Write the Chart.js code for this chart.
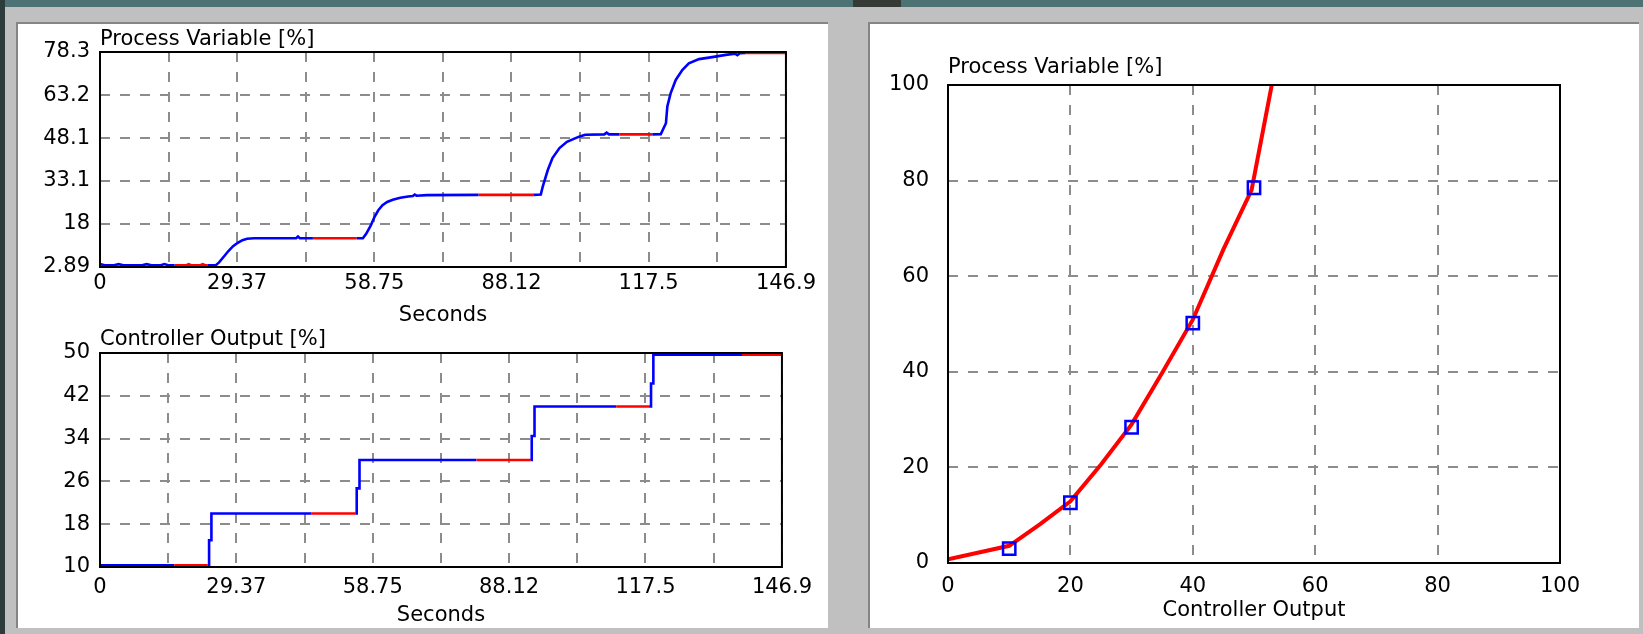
<!DOCTYPE html>
<html>
<head>
<meta charset="utf-8">
<title>Process Variable / Controller Output</title>
<script src="https://cdn.jsdelivr.net/npm/chart.js@4.4.1/dist/chart.umd.min.js"></script>
<style>
  body { margin: 0; width: 1643px; height: 634px; background: #c0c0c0; position: relative; overflow: hidden; }
  .strip { position: absolute; }
  .panel { position: absolute; background: #fff; border-top: 2px solid #858585; border-left: 2px solid #858585; box-sizing: border-box; }
  canvas { position: absolute; }
</style>
</head>
<body>
<div class="strip" style="left:0;top:0;width:1643px;height:7px;background:#4d7274"></div>
<div class="strip" style="left:0;top:0;width:5px;height:634px;background:#2d3c3b"></div>
<div class="strip" style="left:853px;top:0;width:48px;height:7px;background:#353a36"></div>
<div class="panel" style="left:16px;top:22px;width:812px;height:606px"></div>
<div class="panel" style="left:868px;top:22px;width:771px;height:606px"></div>

<canvas id="pvChart" width="800" height="306" style="left:20px;top:24px"></canvas>
<canvas id="coChart" width="800" height="304" style="left:20px;top:326px"></canvas>
<canvas id="mapChart" width="740" height="600" style="left:875px;top:30px"></canvas>

<script>
// --- trend data (seconds) ---
var pvTime = [0, 1, 3, 4, 5, 9, 10, 11, 13, 13.8, 14.6, 16, 18.5, 19, 19.5, 21.5, 22, 22.5, 23.1,
  24.8, 25.5, 26.5, 27.5, 28.5, 29.5, 30.5, 31.5, 33, 42, 42.4, 42.8, 45.6, 55, 56.3,
  57, 58, 58.8, 59.6, 60.5, 61.5, 62.7, 64.3, 66, 67, 67.4, 67.8, 70, 81.1, 92.8, 94.4,
  94.8, 95.9, 96.9, 98.4, 100, 102.6, 103.9, 108, 108.5, 109, 111.2, 118.3, 120.1,
  121.2, 121.5, 122.2, 123.3, 124.7, 126.1, 128.3, 131.1, 134, 136, 136.5, 137, 138.3, 146.9];
var pvValue = [3.9, 3.5, 3.5, 3.9, 3.5, 3.5, 3.9, 3.5, 3.5, 3.9, 3.5, 3.5, 3.5, 3.9, 3.5, 3.5, 3.9, 3.5, 3.5,
  3.5, 4.5, 6.5, 8.5, 10.2, 11.4, 12.3, 12.8, 13.0, 13.0, 13.6, 13.0, 13.0, 13.0, 13.0,
  14.5, 17.5, 20.5, 22.8, 24.6, 25.7, 26.5, 27.2, 27.6, 27.8, 28.3, 27.9, 28.1, 28.2, 28.2, 28.3,
  31.0, 36.9, 41.1, 44.6, 46.8, 48.6, 49.3, 49.4, 50.0, 49.4, 49.4, 49.4, 49.5,
  53.3, 59.2, 63.8, 68.5, 72.0, 74.3, 75.8, 76.5, 77.3, 77.7, 77.2, 77.9, 78.0, 78.0];

var coTime = [0, 16, 23.2, 23.5, 23.5, 24.0, 24.0, 45.6, 55.1, 55.3, 55.3, 55.9, 55.9, 81.1, 92.8,
  93.0, 93.0, 93.6, 93.6, 111.2, 118.3, 118.7, 118.7, 119.2, 119.2, 138.3, 146.9];
var coValue = [10.3, 10.3, 10.3, 10.3, 15, 15, 20, 20, 20, 20, 24.7, 24.7, 30, 30, 30,
  30, 34.5, 34.5, 40, 40, 40, 40, 44.3, 44.3, 49.7, 49.7, 49.7];

// stretches of the trends drawn in red
var redWindows = [[16, 23.2], [45.6, 55.1], [81.1, 92.8], [111.2, 118.3], [138.3, 146.9]];

var timeGrid = [0, 14.69, 29.37, 44.06, 58.75, 73.44, 88.12, 102.81, 117.5, 132.19, 146.9];
var pvTicks = [2.89, 18, 33.1, 48.1, 63.2, 78.3];
var coTicks = [10, 18, 26, 34, 42, 50];

// --- static map (right) ---
var curveCO = [0, 10, 15, 20, 25, 30, 35, 40, 45, 49.6, 52.9];
var curvePV = [0.8, 3.6, 8.1, 12.9, 20.6, 29.0, 39.8, 50.9, 65.6, 78.0, 100];
var pointCO = [10, 20, 30, 40, 50];
var pointPV = [3.0, 12.6, 28.4, 50.2, 78.5];

var FONT = { family: "'DejaVu Sans', sans-serif", size: 21 };
var BLUE = '#0000ff', RED = '#ff0000', GRID = '#8c8c8c';

function pairs(xs, ys) {
  return xs.map(function (x, i) { return { x: x, y: ys[i] }; });
}

function inRed(a, b) {
  var m = (a + b) / 2;
  return redWindows.some(function (w) { return m > w[0] && m < w[1]; });
}

// black box round the plot and the small title on its top-left corner
var framePlugin = {
  id: 'frame',
  afterDatasetsDraw: function (chart, args, opts) {
    var a = chart.chartArea, ctx = chart.ctx;
    ctx.save();
    ctx.strokeStyle = '#000';
    ctx.lineWidth = 2;
    ctx.strokeRect(a.left, a.top, a.right - a.left, a.bottom - a.top);
    ctx.fillStyle = '#000';
    ctx.font = FONT.size + 'px ' + FONT.family;
    ctx.textBaseline = 'middle';
    ctx.textAlign = 'left';
    ctx.fillText(opts.text, a.left, a.top - opts.gap);
    ctx.restore();
  }
};

function axis(o) {
  return {
    type: 'linear',
    min: o.min,
    max: o.max,
    afterBuildTicks: function (s) {
      if (o.ticks) s.ticks = o.ticks.map(function (v) { return { value: v }; });
    },
    afterFit: function (s) {
      if (o.width) s.width = o.width;
      if (o.height) s.height = o.height;
    },
    grid: { color: GRID, lineWidth: 2, drawTicks: false },
    border: { display: false, dash: [10, 10] },
    ticks: {
      color: '#000', font: FONT, padding: o.pad, autoSkip: false, maxRotation: 0,
      stepSize: o.step,
      callback: o.label || function (v) { return String(v); }
    },
    title: {
      display: !!o.title, text: o.title || '', color: '#000', font: FONT,
      padding: { top: 0, bottom: o.titlePad || 0 }
    }
  };
}

function baseOptions(pad, title, gap, x, y) {
  return {
    responsive: false,
    animation: false,
    events: [],
    layout: { padding: pad },
    plugins: {
      legend: { display: false },
      tooltip: { enabled: false },
      frame: { text: title, gap: gap }
    },
    scales: { x: x, y: y }
  };
}

function everyOther(v, i) { return i % 2 ? '' : String(v); }

function trendDataset(xs, ys) {
  return {
    data: pairs(xs, ys),
    borderColor: BLUE,
    borderWidth: 2.6,
    pointRadius: 0,
    tension: 0,
    segment: {
      borderColor: function (c) { return inRed(c.p0.parsed.x, c.p1.parsed.x) ? RED : BLUE; }
    }
  };
}

// Process Variable trend
new Chart(document.getElementById('pvChart'), {
  type: 'line',
  data: { datasets: [trendDataset(pvTime, pvValue)] },
  options: baseOptions({ top: 28, right: 33, left: 0, bottom: 0 }, 'Process Variable [%]', 12,
    axis({ min: 0, max: 146.9, ticks: timeGrid, label: everyOther, pad: 4, height: 63, title: 'Seconds', titlePad: 2 }),
    axis({ min: 2.89, max: 78.3, ticks: pvTicks, pad: 10, width: 80 })),
  plugins: [framePlugin]
});

// Controller Output trend
new Chart(document.getElementById('coChart'), {
  type: 'line',
  data: { datasets: [trendDataset(coTime, coValue)] },
  options: baseOptions({ top: 27, right: 33, left: 0, bottom: 0 }, 'Controller Output [%]', 13,
    axis({ min: 0, max: 146.9, ticks: timeGrid, label: everyOther, pad: 8, height: 63, title: 'Seconds', titlePad: 2 }),
    axis({ min: 10, max: 50, ticks: coTicks, pad: 10, width: 80 })),
  plugins: [framePlugin]
});

// PV against CO map
new Chart(document.getElementById('mapChart'), {
  type: 'line',
  data: {
    datasets: [
      {
        data: pairs(pointCO, pointPV),
        showLine: false,
        pointStyle: 'rect',
        pointRadius: 8.7,
        pointBorderWidth: 2.5,
        pointBorderColor: BLUE,
        pointBackgroundColor: 'rgba(0,0,0,0)'
      },
      {
        data: pairs(curveCO, curvePV),
        borderColor: RED,
        borderWidth: 4,
        pointRadius: 0,
        tension: 0
      }
    ]
  },
  options: baseOptions({ top: 55, right: 55, left: 0, bottom: 0 }, 'Process Variable [%]', 17,
    axis({ min: 0, max: 100, step: 20, pad: 11, height: 67, title: 'Controller Output', titlePad: 7 }),
    axis({ min: 0, max: 100, step: 20, pad: 19, width: 73 })),
  plugins: [framePlugin]
});
</script>
</body>
</html>
